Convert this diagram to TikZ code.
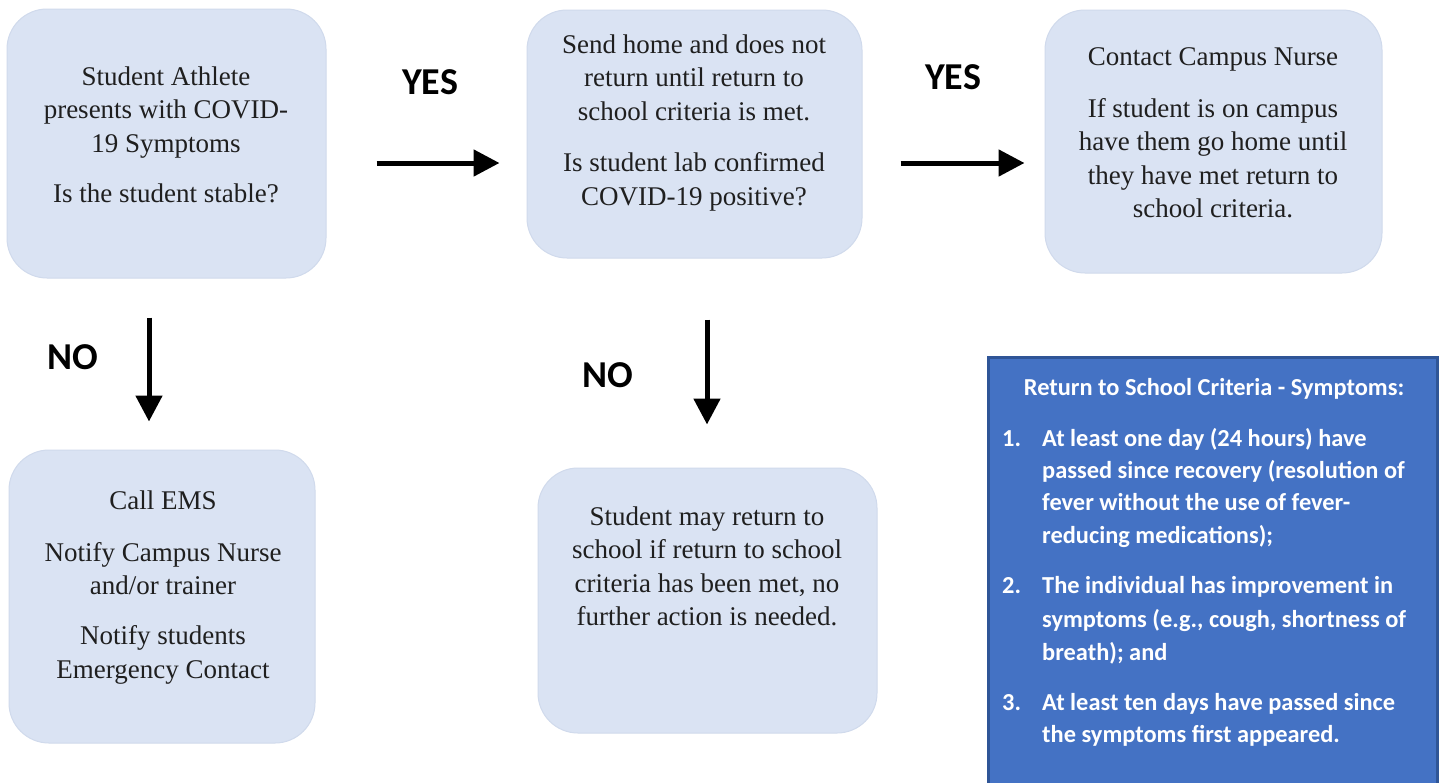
\documentclass[tikz,border=0pt]{standalone}
\usepackage{fontspec}
\setmainfont{Liberation Serif}
\newfontfamily\calfont{Carlito}
\usetikzlibrary{arrows.meta}
\definecolor{boxfill}{HTML}{DAE3F3}
\definecolor{boxedge}{HTML}{D0DAEC}
\definecolor{critfill}{HTML}{4472C4}
\definecolor{critedge}{HTML}{2F5597}
\begin{document}
\begin{tikzpicture}[x=1pt,y=-1pt,
  flowbox/.style={draw=boxedge, line width=1pt, fill=boxfill, rounded corners=40pt, inner sep=0pt},
  boxtext/.style={align=center, font=\fontsize{27}{33.5}\selectfont, inner sep=0pt, text=black!88},
  decision/.style={font=\calfont\bfseries\fontsize{38}{40}\selectfont, inner sep=0pt},
  bigarrow/.style={line width=5pt, -{Triangle[length=26pt,width=26pt]}},
  critbox/.style={draw=critedge, line width=3pt, fill=critfill, inner sep=0pt},
  crittext/.style={font=\calfont\bfseries\fontsize{24.4}{28}\selectfont, text=white, inner sep=0pt, anchor=base west},
]
\useasboundingbox (0,0) rectangle (1442,782);
\fill[white] (0,0) rectangle (1442,782);

% boxes
\node[flowbox, minimum width=319pt, minimum height=269pt] (b1) at (166.5,143.5) {};
\node[flowbox, minimum width=335pt, minimum height=248pt] (b2) at (694.5,134) {};
\node[flowbox, minimum width=337pt, minimum height=263pt] (b3) at (1213.5,141.5) {};
\node[flowbox, minimum width=306pt, minimum height=293pt] (b4) at (162,596.5) {};
\node[flowbox, minimum width=339pt, minimum height=265pt] (b5) at (707.5,600.5) {};

% box texts
\node[boxtext] (t1) at (166,134.5) {Student Athlete\\presents with COVID-\\19 Symptoms\\[16.5pt]Is the student stable?};
\node[boxtext] (t2) at (694,123) {Send home and does not\\return until return to\\school criteria is met.\\[18pt]Is student lab confirmed\\COVID-19 positive?};
\node[boxtext] (t3) at (1213,133) {Contact Campus Nurse\\[18pt]If student is on campus\\have them go home until\\they have met return to\\school criteria.};
\node[boxtext] (t4) at (163,587.5) {Call EMS\\[18pt]Notify Campus Nurse\\and/or trainer\\[16.5pt]Notify students\\Emergency Contact};
\node[boxtext] (t5) at (707,566.5) {Student may return to\\school if return to school\\criteria has been met, no\\further action is needed.};

% decision labels
\node[decision] (yes1) at (430,82) {YES};
\node[decision] (yes2) at (953,77) {YES};
\node[decision] (no1) at (73,357) {NO};
\node[decision] (no2) at (608,375) {NO};

% arrows
\draw[bigarrow, shorten <=50pt, shorten >=27pt] (b1.east |- 0,163) -- (b2.west |- 0,163);
\draw[bigarrow, shorten <=38pt, shorten >=20pt] (b2.east |- 0,163) -- (b3.west |- 0,163);
\draw[bigarrow, shorten <=39pt, shorten >=28pt] (b1.south -| 149,0) -- (b4.north -| 149,0);
\draw[bigarrow, shorten <=61pt, shorten >=43pt] (b2.south -| 707,0) -- (b5.north -| 707,0);

% criteria box
\node[critbox, minimum width=449pt, minimum height=453pt] (crit) at (1212.5,583.5) {};
\node[crittext, anchor=base] (ctitle) at (1214,395) {Return to School Criteria - Symptoms:};
\node[crittext] (n1) at (1002,446.7) {1.};
\node[crittext] (n2) at (1002,593) {2.};
\node[crittext] (n3) at (1002,710) {3.};
\foreach \yy/\tt [count=\i] in {
  446.7/{At least one day (24 hours) have},
  478/{passed since recovery (resolution of},
  510/{fever without the use of fever-},
  543/{reducing medications);},
  593/{The individual has improvement in},
  627/{symptoms (e.g., cough, shortness of},
  660/{breath); and},
  710/{At least ten days have passed since},
  742/{the symptoms first appeared.}}
  {\node[crittext] (cl\i) at (1042,\yy) {\tt};}
\end{tikzpicture}
\end{document}
